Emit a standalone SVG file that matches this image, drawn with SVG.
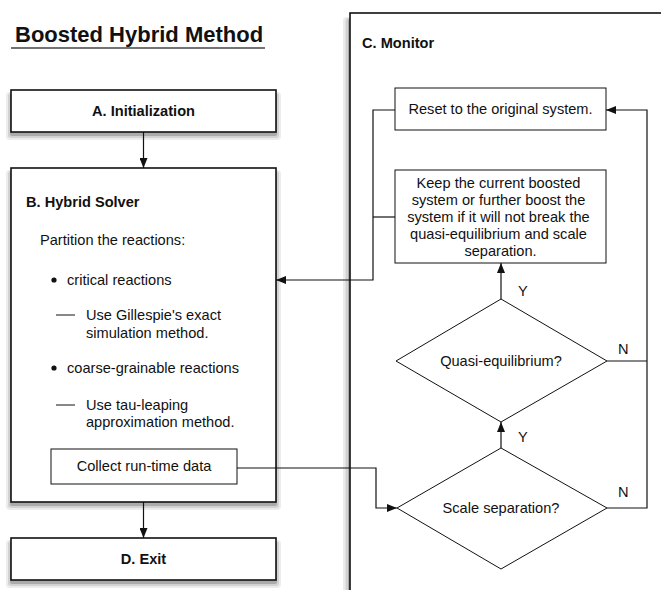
<svg xmlns="http://www.w3.org/2000/svg" width="661" height="590" viewBox="0 0 661 590">
  <style>
    .t { font-family: "Liberation Sans", Arial, sans-serif; font-size: 14.6px; fill: #111; }
    .b { font-weight: bold; }
    .box { fill: #fff; stroke: #111; stroke-width: 1.6; }
    .in { fill: #fff; stroke: #111; stroke-width: 1; }
    .ln { fill: none; stroke: #111; stroke-width: 1.2; }
    .s1 { fill: #ececec; }
    .s2 { fill: #d2d2d2; }
    .s3 { fill: #ababab; }
  </style>
  <defs>
    <marker id="arr" viewBox="0 0 10 8" refX="10" refY="4" markerWidth="10" markerHeight="8" markerUnits="userSpaceOnUse" orient="auto">
      <path d="M0,0 L10,4 L0,8 z" fill="#111"/>
    </marker>
  </defs>

  <rect width="661" height="590" fill="#fff"/>

  <!-- title -->
  <g id="title">
    <text class="t b" x="15" y="42" style="font-size:22px">Boosted Hybrid Method</text>
    <line x1="11" y1="48" x2="265" y2="48" stroke="#444" stroke-width="1.3"/>
  </g>

  <!-- C. Monitor panel, running off the right and bottom edges; layered soft shadow on its left -->
  <g id="monitor">
    <rect class="s1" x="343" y="17" width="400" height="640" rx="4"/>
    <rect class="s2" x="345.5" y="18" width="400" height="640" rx="3"/>
    <rect class="s3" x="348" y="19" width="400" height="640" rx="2"/>
    <rect x="350" y="13" width="400" height="640" fill="#fff" stroke="#111" stroke-width="1.6"/>
    <text class="t b" x="362" y="48">C. Monitor</text>
  </g>

  <!-- A. Initialization -->
  <g id="init">
    <rect class="s1" x="6" y="92" width="275" height="48" rx="4"/>
    <rect class="s2" x="8" y="93" width="271" height="45" rx="3"/>
    <rect class="s3" x="10" y="94" width="267" height="42" rx="2"/>
    <rect class="box" x="11" y="90" width="265" height="42"/>
    <text class="t b" x="143.5" y="116" text-anchor="middle">A. Initialization</text>
  </g>

  <!-- B. Hybrid Solver -->
  <g id="solver">
    <rect class="s1" x="6" y="170" width="275" height="340" rx="4"/>
    <rect class="s2" x="8" y="171" width="271" height="337" rx="3"/>
    <rect class="s3" x="10" y="172" width="267" height="334" rx="2"/>
    <rect class="box" x="11" y="168" width="265" height="334"/>
    <text class="t b" x="26" y="207">B. Hybrid Solver</text>
    <text class="t" x="40" y="245">Partition the reactions:</text>
    <circle cx="54" cy="280" r="2.6" fill="#111"/>
    <text class="t" x="67" y="285">critical reactions</text>
    <line x1="56" y1="315" x2="75" y2="315" stroke="#111" stroke-width="1"/>
    <text class="t" x="86" y="320">Use Gillespie's exact</text>
    <text class="t" x="86" y="338">simulation method.</text>
    <circle cx="54" cy="368" r="2.6" fill="#111"/>
    <text class="t" x="67" y="373">coarse-grainable reactions</text>
    <line x1="56" y1="405" x2="75" y2="405" stroke="#111" stroke-width="1"/>
    <text class="t" x="86" y="410">Use tau-leaping</text>
    <text class="t" x="86" y="427">approximation method.</text>
  </g>

  <g id="collect">
    <rect class="in" x="51" y="449" width="186" height="35"/>
    <text class="t" x="144" y="471" text-anchor="middle">Collect run-time data</text>
  </g>

  <!-- D. Exit -->
  <g id="exit">
    <rect class="s1" x="6" y="540" width="275" height="48" rx="4"/>
    <rect class="s2" x="8" y="541" width="271" height="45" rx="3"/>
    <rect class="s3" x="10" y="542" width="267" height="42" rx="2"/>
    <rect class="box" x="11" y="538" width="265" height="42"/>
    <text class="t b" x="143.5" y="564" text-anchor="middle">D. Exit</text>
  </g>

  <!-- monitor steps -->
  <g id="reset">
    <rect class="in" x="395" y="88" width="211" height="42"/>
    <text class="t" x="500.5" y="114" text-anchor="middle">Reset to the original system.</text>
  </g>

  <g id="keep">
    <rect class="in" x="395" y="170" width="211" height="93"/>
    <text class="t" text-anchor="middle">
      <tspan x="500.5" y="188">Keep the current boosted</tspan>
      <tspan x="500.5" y="205">system or further boost the</tspan>
      <tspan x="500.5" y="222">system if it will not break the</tspan>
      <tspan x="500.5" y="239">quasi-equilibrium and scale</tspan>
      <tspan x="500.5" y="256">separation.</tspan>
    </text>
  </g>

  <g id="quasi">
    <polygon class="in" points="501,299 607,361 501,422 396,361"/>
    <text class="t" x="501" y="366" text-anchor="middle">Quasi-equilibrium?</text>
  </g>

  <g id="scale">
    <polygon class="in" points="501,448 607,508 501,569 397,508"/>
    <text class="t" x="501" y="513" text-anchor="middle">Scale separation?</text>
  </g>

  <!-- connectors -->
  <g id="connectors">
    <line class="ln" x1="143.5" y1="132" x2="143.5" y2="168" marker-end="url(#arr)"/>
    <line class="ln" x1="143.5" y1="502" x2="143.5" y2="538" marker-end="url(#arr)"/>
    <polyline class="ln" points="237,468 376,468 376,508 397,508" marker-end="url(#arr)"/>
    <polyline class="ln" points="395,110 373,110 373,280 276,280" marker-end="url(#arr)"/>
    <line class="ln" x1="395" y1="217" x2="373" y2="217"/>
    <line class="ln" x1="501" y1="299" x2="501" y2="263" marker-end="url(#arr)"/>
    <line class="ln" x1="501" y1="448" x2="501" y2="422" marker-end="url(#arr)"/>
    <polyline class="ln" points="607,508 647,508 647,110 606,110" marker-end="url(#arr)"/>
    <line class="ln" x1="607" y1="361" x2="647" y2="361"/>
  </g>

  <g id="labels">
    <text class="t" x="518" y="296">Y</text>
    <text class="t" x="518" y="442">Y</text>
    <text class="t" x="618" y="354">N</text>
    <text class="t" x="618" y="497">N</text>
  </g>
</svg>
